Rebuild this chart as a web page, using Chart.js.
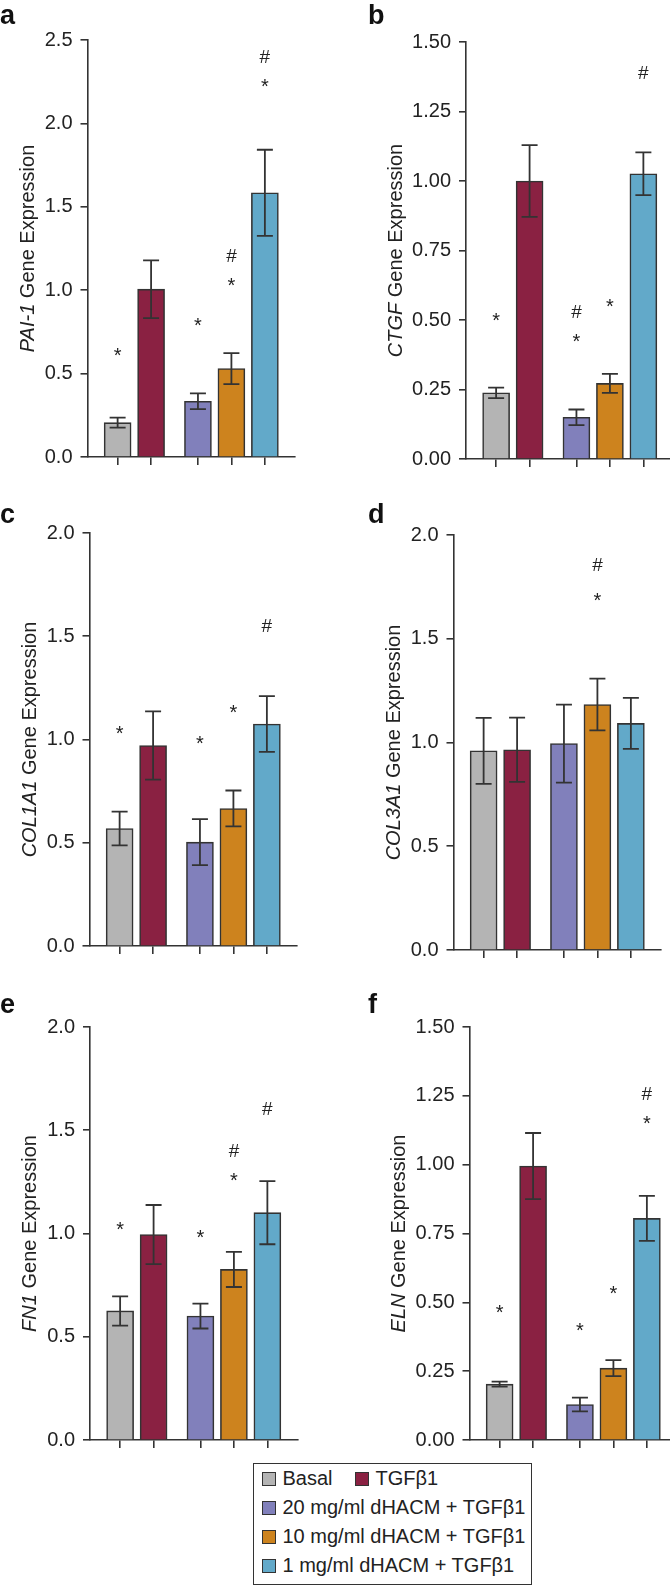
<!DOCTYPE html>
<html>
<head>
<meta charset="utf-8">
<script src="https://cdn.jsdelivr.net/npm/chart.js@4.4.1/dist/chart.umd.min.js"></script>
<style>
  html, body { margin: 0; padding: 0; background: #fff; overflow: hidden; }
  body { width: 670px; height: 1586px; position: relative; font-family: "Liberation Sans", Arial, sans-serif; color: #222; }
  canvas { position: absolute; }
  #legend { position: absolute; left: 253px; top: 1463px; width: 279px; height: 122px; box-sizing: border-box; border: 1.5px solid #333; }
  #legend .item { position: absolute; height: 29px; line-height: 29px; display: flex; align-items: center; white-space: nowrap; font-size: 20px; }
  #legend .sw { width: 14px; height: 14px; box-sizing: border-box; border: 1.5px solid #333; margin-right: 7px; }
</style>
</head>
<body>
<div id="legend"></div>
<script>
const groups = ["Basal", "TGFβ1", "20 mg/ml dHACM + TGFβ1", "10 mg/ml dHACM + TGFβ1", "1 mg/ml dHACM + TGFβ1"];
const groupColors = ["#b4b4b4", "#8a2142", "#8180bb", "#cd831e", "#62a9c9"];
// x slots of the five bars (gap between the controls and the dHACM trio)
const slots = [0.9, 1.9, 3.3, 4.3, 5.3];
const xMax = 6.2;

// mean and SEM
const pai1Mean = [0.206, 1.006, 0.334, 0.53, 1.584];
const pai1Sem = [0.03, 0.173, 0.047, 0.093, 0.258];
const pai1Star = [0.64, null, 0.82, 1.06, 2.254];
const pai1Hash = [null, null, null, 1.21, 2.404];

const ctgfMean = [0.238, 1.0, 0.15, 0.272, 1.026];
const ctgfSem = [0.019, 0.129, 0.028, 0.034, 0.077];
const ctgfStar = [0.516, null, 0.442, 0.568, null];
const ctgfHash = [null, null, 0.532, null, 1.393];

const col1a1Mean = [0.569, 0.971, 0.503, 0.666, 1.075];
const col1a1Sem = [0.082, 0.165, 0.111, 0.087, 0.135];
const col1a1Star = [1.051, null, 1.003, 1.154, null];
const col1a1Hash = [null, null, null, null, 1.556];

const col3a1Mean = [0.96, 0.965, 0.995, 1.183, 1.092];
const col3a1Sem = [0.159, 0.155, 0.188, 0.125, 0.123];
const col3a1Star = [null, null, null, 1.71, null];
const col3a1Hash = [null, null, null, 1.86, null];

const fn1Mean = [0.625, 0.995, 0.6, 0.826, 1.101];
const fn1Sem = [0.071, 0.143, 0.06, 0.085, 0.153];
const fn1Star = [1.043, null, 1.006, 1.28, null];
const fn1Hash = [null, null, null, 1.405, 1.606];

const elnMean = [0.203, 0.995, 0.129, 0.261, 0.805];
const elnSem = [0.009, 0.12, 0.025, 0.029, 0.082];
const elnStar = [0.481, null, 0.415, 0.549, 1.169];
const elnHash = [null, null, null, null, 1.261];

Chart.defaults.font.family = '"Liberation Sans", Arial, sans-serif';
Chart.defaults.color = '#222';

const ink = '#333';
const yw = 60, xh = 12, axisLen = 207.5;

const panels = [
  { letter: 'a', gene: 'PAI-1', mean: pai1Mean, sem: pai1Sem, star: pai1Star, hash: pai1Hash, yMax: 2.5, step: 0.5, dec: 1,
    cx: 0, cy: 0, cw: 335, ch: 480, axisX: 87.5, topY: 40, botY: 457, titleOff: 54, lx: 0, ly: 24 },
  { letter: 'b', gene: 'CTGF', mean: ctgfMean, sem: ctgfSem, star: ctgfStar, hash: ctgfHash, yMax: 1.5, step: 0.25, dec: 2,
    cx: 335, cy: 0, cw: 345, ch: 480, axisX: 466, topY: 42, botY: 459, titleOff: 64.5, lx: 368, ly: 24 },
  { letter: 'c', gene: 'COL1A1', mean: col1a1Mean, sem: col1a1Sem, star: col1a1Star, hash: col1a1Hash, yMax: 2, step: 0.5, dec: 1,
    cx: 0, cy: 480, cw: 335, ch: 490, axisX: 89.5, topY: 533, botY: 946, titleOff: 54, lx: 0, ly: 523 },
  { letter: 'd', gene: 'COL3A1', mean: col3a1Mean, sem: col3a1Sem, star: col3a1Star, hash: col3a1Hash, yMax: 2, step: 0.5, dec: 1,
    cx: 335, cy: 480, cw: 345, ch: 490, axisX: 453.5, topY: 535, botY: 950, titleOff: 54, lx: 368, ly: 523 },
  { letter: 'e', gene: 'FN1', mean: fn1Mean, sem: fn1Sem, star: fn1Star, hash: fn1Hash, yMax: 2, step: 0.5, dec: 1,
    cx: 0, cy: 960, cw: 335, ch: 500, axisX: 90, topY: 1027, botY: 1444, titleOff: 54, lx: 0, ly: 1013 },
  { letter: 'f', gene: 'ELN', mean: elnMean, sem: elnSem, star: elnStar, hash: elnHash, yMax: 1.5, step: 0.25, dec: 2,
    cx: 335, cy: 960, cw: 345, ch: 500, axisX: 469.5, topY: 1027, botY: 1445, titleOff: 65, lx: 368, ly: 1013 }
];

function makePanel(p) {
  const canvas = document.createElement('canvas');
  canvas.width = p.cw;
  canvas.height = p.ch;
  canvas.style.left = p.cx + 'px';
  canvas.style.top = p.cy + 'px';
  canvas.style.width = p.cw + 'px';
  canvas.style.height = p.ch + 'px';
  document.body.appendChild(canvas);

  const padding = {
    left: p.axisX - p.cx - yw,
    top: p.topY - p.cy,
    right: p.cx + p.cw - (p.axisX + axisLen),
    bottom: p.cy + p.ch - p.botY - xh
  };

  // error bars, significance marks, axis title and panel letter
  const extras = {
    id: 'extras' + p.letter,
    afterDatasetsDraw(chart) {
      const ctx = chart.ctx;
      const xs = chart.scales.x, ys = chart.scales.y;
      ctx.save();
      ctx.strokeStyle = ink;
      ctx.lineWidth = 1.8;
      p.mean.forEach((m, i) => {
        const x = xs.getPixelForValue(slots[i]);
        const hi = ys.getPixelForValue(m + p.sem[i]);
        const lo = ys.getPixelForValue(m - p.sem[i]);
        ctx.beginPath();
        ctx.moveTo(x, hi); ctx.lineTo(x, lo);
        ctx.moveTo(x - 8, hi); ctx.lineTo(x + 8, hi);
        ctx.moveTo(x - 8, lo); ctx.lineTo(x + 8, lo);
        ctx.stroke();
      });

      ctx.fillStyle = '#222';
      ctx.textAlign = 'center';
      ctx.textBaseline = 'alphabetic';
      ctx.font = '20px "Liberation Sans", Arial, sans-serif';
      p.star.forEach((v, i) => {
        if (v === null) return;
        ctx.fillText('*', xs.getPixelForValue(slots[i]), ys.getPixelForValue(v) + 11.5);
      });
      ctx.font = '19px "Liberation Sans", Arial, sans-serif';
      p.hash.forEach((v, i) => {
        if (v === null) return;
        ctx.fillText('#', xs.getPixelForValue(slots[i]), ys.getPixelForValue(v) + 7);
      });

      // rotated y title, gene name in italics
      const area = chart.chartArea;
      const italic = 'italic 20px "Liberation Sans", Arial, sans-serif';
      const normal = '20px "Liberation Sans", Arial, sans-serif';
      const rest = ' Gene Expression';
      ctx.font = italic;
      const w1 = ctx.measureText(p.gene).width;
      ctx.font = normal;
      const w2 = ctx.measureText(rest).width;
      ctx.translate(p.axisX - p.cx - p.titleOff, (area.top + area.bottom) / 2);
      ctx.rotate(-Math.PI / 2);
      ctx.textAlign = 'left';
      ctx.font = italic;
      ctx.fillText(p.gene, -(w1 + w2) / 2, 0);
      ctx.font = normal;
      ctx.fillText(rest, -(w1 + w2) / 2 + w1, 0);
      ctx.restore();

      ctx.save();
      ctx.fillStyle = '#111';
      ctx.font = 'bold 27px "Liberation Sans", Arial, sans-serif';
      ctx.textAlign = 'left';
      ctx.textBaseline = 'alphabetic';
      ctx.fillText(p.letter, p.lx - p.cx, p.ly - p.cy);
      ctx.restore();
    }
  };

  new Chart(canvas, {
    type: 'bar',
    data: {
      datasets: [{
        data: p.mean.map((v, i) => ({ x: slots[i], y: v })),
        backgroundColor: groupColors,
        borderColor: ink,
        borderWidth: 1.6,
        barThickness: 27
      }]
    },
    options: {
      responsive: false,
      animation: false,
      devicePixelRatio: 1,
      layout: { padding },
      plugins: { legend: { display: false }, tooltip: { enabled: false } },
      scales: {
        x: {
          type: 'linear', min: 0, max: xMax, offset: false,
          border: { color: ink, width: 1.6 },
          grid: { offset: false, drawOnChartArea: false, tickLength: 8, color: ink, tickColor: ink, lineWidth: 1.6 },
          ticks: { display: false },
          afterBuildTicks: s => { s.ticks = slots.map(v => ({ value: v })); },
          afterFit: s => { s.height = xh; }
        },
        y: {
          min: 0, max: p.yMax,
          border: { color: ink, width: 1.6 },
          grid: { drawOnChartArea: false, tickLength: 7, color: ink, tickColor: ink, lineWidth: 1.6 },
          ticks: { stepSize: p.step, padding: 8, color: '#222', font: { size: 20 }, callback: v => Number(v).toFixed(p.dec) },
          afterFit: s => { s.width = yw; }
        }
      }
    },
    plugins: [extras]
  });
}

panels.forEach(makePanel);

// legend
const legend = document.getElementById('legend');
const legendRows = [[0, 1], [2], [3], [4]];
legendRows.forEach((row, r) => {
  row.forEach((g, k) => {
    const item = document.createElement('div');
    item.className = 'item';
    item.style.top = (16 + 29 * r - 14.5 - 1.5) + 'px';
    item.style.left = (k === 0 ? 7.5 : 100.5) + 'px';
    const sw = document.createElement('span');
    sw.className = 'sw';
    sw.style.background = groupColors[g];
    item.appendChild(sw);
    item.appendChild(document.createTextNode(groups[g]));
    legend.appendChild(item);
  });
});
</script>
</body>
</html>
